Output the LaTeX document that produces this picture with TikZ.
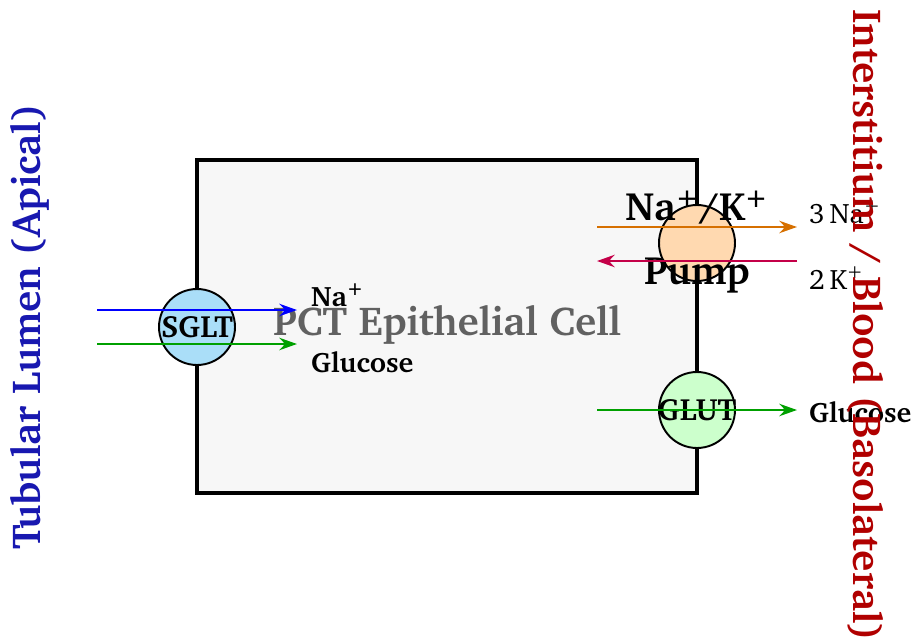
\documentclass[tikz,border=0pt]{standalone}
\usepackage[T1]{fontenc}
\usepackage{charter}
\usepackage{tikz}
\usetikzlibrary{arrows.meta,positioning,calc}

\definecolor{cellgray}{RGB}{247,247,247}
\definecolor{sgltblue}{RGB}{170,222,248}
\definecolor{pumppeach}{RGB}{255,217,176}
\definecolor{glutgreen}{RGB}{204,255,204}
\definecolor{naorange}{RGB}{214,112,0}
\definecolor{kcrimson}{RGB}{196,0,72}
\definecolor{glcgreen}{RGB}{0,160,0}
\definecolor{apicalblue}{RGB}{24,24,176}
\definecolor{basored}{RGB}{176,0,0}

\begin{document}
\begin{tikzpicture}[x=0.02cm, y=-0.02cm,
    carrier/.style={draw, line width=1.1pt, circle, minimum size=1.52cm, inner sep=0pt},
    tag/.style={font=\bfseries\fontsize{17.5}{20}\selectfont},
    ion/.style={anchor=west, font=\bfseries\fontsize{16}{18}\selectfont},
    flux/.style={-{Stealth[length=10pt, width=7pt]}, line width=1.5pt},
    side/.style={font=\bfseries\fontsize{23}{26}\selectfont}
]
\useasboundingbox (0,0) rectangle (914,639);

% cell
\draw[line width=2pt, fill=cellgray] (197,160) rectangle (697,493);
\node[font=\bfseries\fontsize{23}{26}\selectfont, text=black!62] (cell) at (447,325) {PCT Epithelial Cell};

% apical side
\node[carrier, fill=sgltblue] (sglt) at (197,327) {};
\node[tag] (sgltLbl) at (sglt) {SGLT};
\coordinate (naIn) at (97,310);
\coordinate (naOut) at (297,310);
\coordinate (glIn) at (97,344);
\coordinate (glOut) at (297,344);
\draw[flux, blue] (naIn) -- (naOut);
\draw[flux, glcgreen] (glIn) -- (glOut);
\node[ion] (naLbl) at (305,295) {Na\textsuperscript{+}};
\node[ion] (glLbl) at (305,362) {Glucose};

% basolateral side
\node[carrier, fill=pumppeach] (pump) at (697,243) {};
\node[font=\bfseries\fontsize{22.5}{26}\selectfont] (pumpTop) at (697,208) {Na\textsuperscript{+}/K\textsuperscript{+}};
\node[font=\bfseries\fontsize{22.5}{26}\selectfont] (pumpBot) at (697,275) {Pump};
\coordinate (naL) at (597,227);
\coordinate (naR) at (797,227);
\coordinate (kR) at (797,261);
\coordinate (kL) at (597,261);
\draw[flux, naorange] (naL) -- (naR);
\draw[flux, kcrimson] (kR) -- (kL);
\node[anchor=west, font=\fontsize{16}{18}\selectfont] (na3) at (803,212) {3\,Na\textsuperscript{+}};
\node[anchor=west, font=\fontsize{16}{18}\selectfont] (k2) at (803,278) {2\,K\textsuperscript{+}};

\node[carrier, fill=glutgreen] (glut) at (697,410) {};
\node[tag] (glutLbl) at (glut) {GLUT};
\coordinate (glL) at (597,410);
\coordinate (glR) at (797,410);
\draw[flux, glcgreen] (glL) -- (glR);
\node[ion] (glRLbl) at (803,412) {Glucose};

% compartments
\node[side, text=apicalblue, rotate=90] (lumen) at (30,327) {Tubular Lumen (Apical)};
\node[side, text=basored, rotate=-90] (blood) at (866,325) {Interstitium / Blood (Basolateral)};
\end{tikzpicture}
\end{document}
